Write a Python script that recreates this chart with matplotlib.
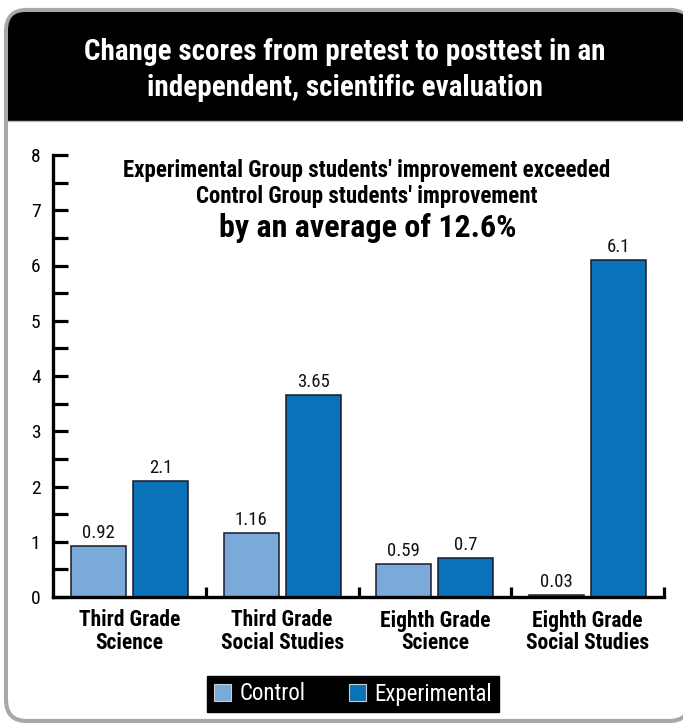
import matplotlib.pyplot as plt
from matplotlib.patches import FancyBboxPatch, Rectangle

categories = ["Third Grade\nScience", "Third Grade\nSocial Studies",
              "Eighth Grade\nScience", "Eighth Grade\nSocial Studies"]
control = [0.92, 1.16, 0.59, 0.03]
experimental = [2.1, 3.65, 0.7, 6.1]
control_labels = ["0.92", "1.16", "0.59", "0.03"]
experimental_labels = ["2.1", "3.65", "0.7", "6.1"]

W, H = 683, 724
FONT = ["DejaVu Sans Condensed", "Liberation Sans Narrow", "Roboto Condensed", "DejaVu Sans"]
plt.rcParams["font.family"] = FONT
plt.rcParams["font.stretch"] = "condensed"

fig = plt.figure(figsize=(W / 100, H / 100), dpi=100)

def fx(px):
    return px / W

def fy(py):
    return 1 - py / H

# card with grey rim, black header band
card = FancyBboxPatch((fx(6), fy(721)), fx(690) - fx(6), fy(10) - fy(721),
                      boxstyle="round,pad=0,rounding_size=0.03",
                      transform=fig.transFigure, facecolor="white",
                      edgecolor="#a8a8a8", linewidth=3, zorder=0)
fig.patches.append(card)
header = FancyBboxPatch((fx(8), fy(300)), fx(690) - fx(8), fy(12) - fy(300),
                        boxstyle="round,pad=0,rounding_size=0.025",
                        transform=fig.transFigure, facecolor="black",
                        edgecolor="none", zorder=1)
fig.patches.append(header)
body = Rectangle((fx(8), fy(700)), fx(690) - fx(8), fy(121) - fy(700),
                 transform=fig.transFigure, facecolor="white",
                 edgecolor="none", zorder=2)
fig.patches.append(body)
fig.add_artist(plt.Line2D([fx(8), fx(690)], [fy(121), fy(121)],
                          transform=fig.transFigure, color="#bbbbbb", lw=1, zorder=3))

fig.text(fx(345), fy(52), "Change scores from pretest to posttest in an",
         color="white", fontsize=21, fontweight="bold", ha="center", va="center", zorder=4)
fig.text(fx(345), fy(88), "independent, scientific evaluation",
         color="white", fontsize=21, fontweight="bold", ha="center", va="center", zorder=4)

ax = fig.add_axes([fx(53), fy(597), fx(664) - fx(53), fy(155) - fy(597)])
ax.set_zorder(5)
ax.patch.set_alpha(0)

x = list(range(len(categories)))
bw = 0.36
off = 0.203
ctrl_bars = ax.bar([i - off for i in x], control, bw, color="#7aaad9",
                   edgecolor="#1a1a2a", linewidth=1.1, label="Control")
exp_bars = ax.bar([i + off for i in x], experimental, bw, color="#0a72b9",
                  edgecolor="#1a1a2a", linewidth=1.1, label="Experimental")

for bars, labels in ((ctrl_bars, control_labels), (exp_bars, experimental_labels)):
    for b, t in zip(bars, labels):
        ax.annotate(t, (b.get_x() + b.get_width() / 2, b.get_height()),
                    xytext=(0, 3), textcoords="offset points",
                    ha="center", va="bottom", fontsize=13.5, color="#111111")

ax.set_xlim(-0.5, 3.5)
ax.set_ylim(0, 8)
for s in ("top", "right"):
    ax.spines[s].set_visible(False)
for s in ("left", "bottom"):
    ax.spines[s].set_linewidth(2.4)
    ax.spines[s].set_color("black")

ax.set_yticks(range(0, 9))
ax.set_yticks([i + 0.5 for i in range(8)], minor=True)
ax.tick_params(axis="y", which="both", direction="in", length=11, width=2.3,
               pad=9, labelsize=14, colors="black")

ax.set_xticks(x)
ax.set_xticklabels(categories, fontsize=15.5, fontweight="bold", linespacing=1.05)
ax.set_xticks([0.5, 1.5, 2.5, 3.5], minor=True)
ax.tick_params(axis="x", which="major", length=0, pad=9)
ax.tick_params(axis="x", which="minor", direction="in", length=7, width=2.3)

fig.text(fx(367), fy(170), "Experimental Group students' improvement exceeded",
         fontsize=16.5, fontweight="bold", ha="center", va="center", zorder=6)
fig.text(fx(367), fy(196), "Control Group students' improvement",
         fontsize=16.5, fontweight="bold", ha="center", va="center", zorder=6)
fig.text(fx(368), fy(228), "by an average of 12.6%",
         fontsize=23, fontweight="bold", ha="center", va="center", zorder=6)

leg = fig.legend(handles=[ctrl_bars, exp_bars], labels=["Control", "Experimental"],
                 loc="center", bbox_to_anchor=(fx(353), fy(694)), ncol=2,
                 frameon=True, fancybox=False, facecolor="black", edgecolor="black",
                 framealpha=1, labelcolor="white", fontsize=16.5,
                 handlelength=0.75, handleheight=0.75, handletextpad=0.35,
                 columnspacing=1.9, borderpad=0.3)
for h in leg.legend_handles:
    h.set_edgecolor("#cccccc")
    h.set_linewidth(0.8)
leg.set_zorder(7)

fig.savefig("out.png", dpi=100)
